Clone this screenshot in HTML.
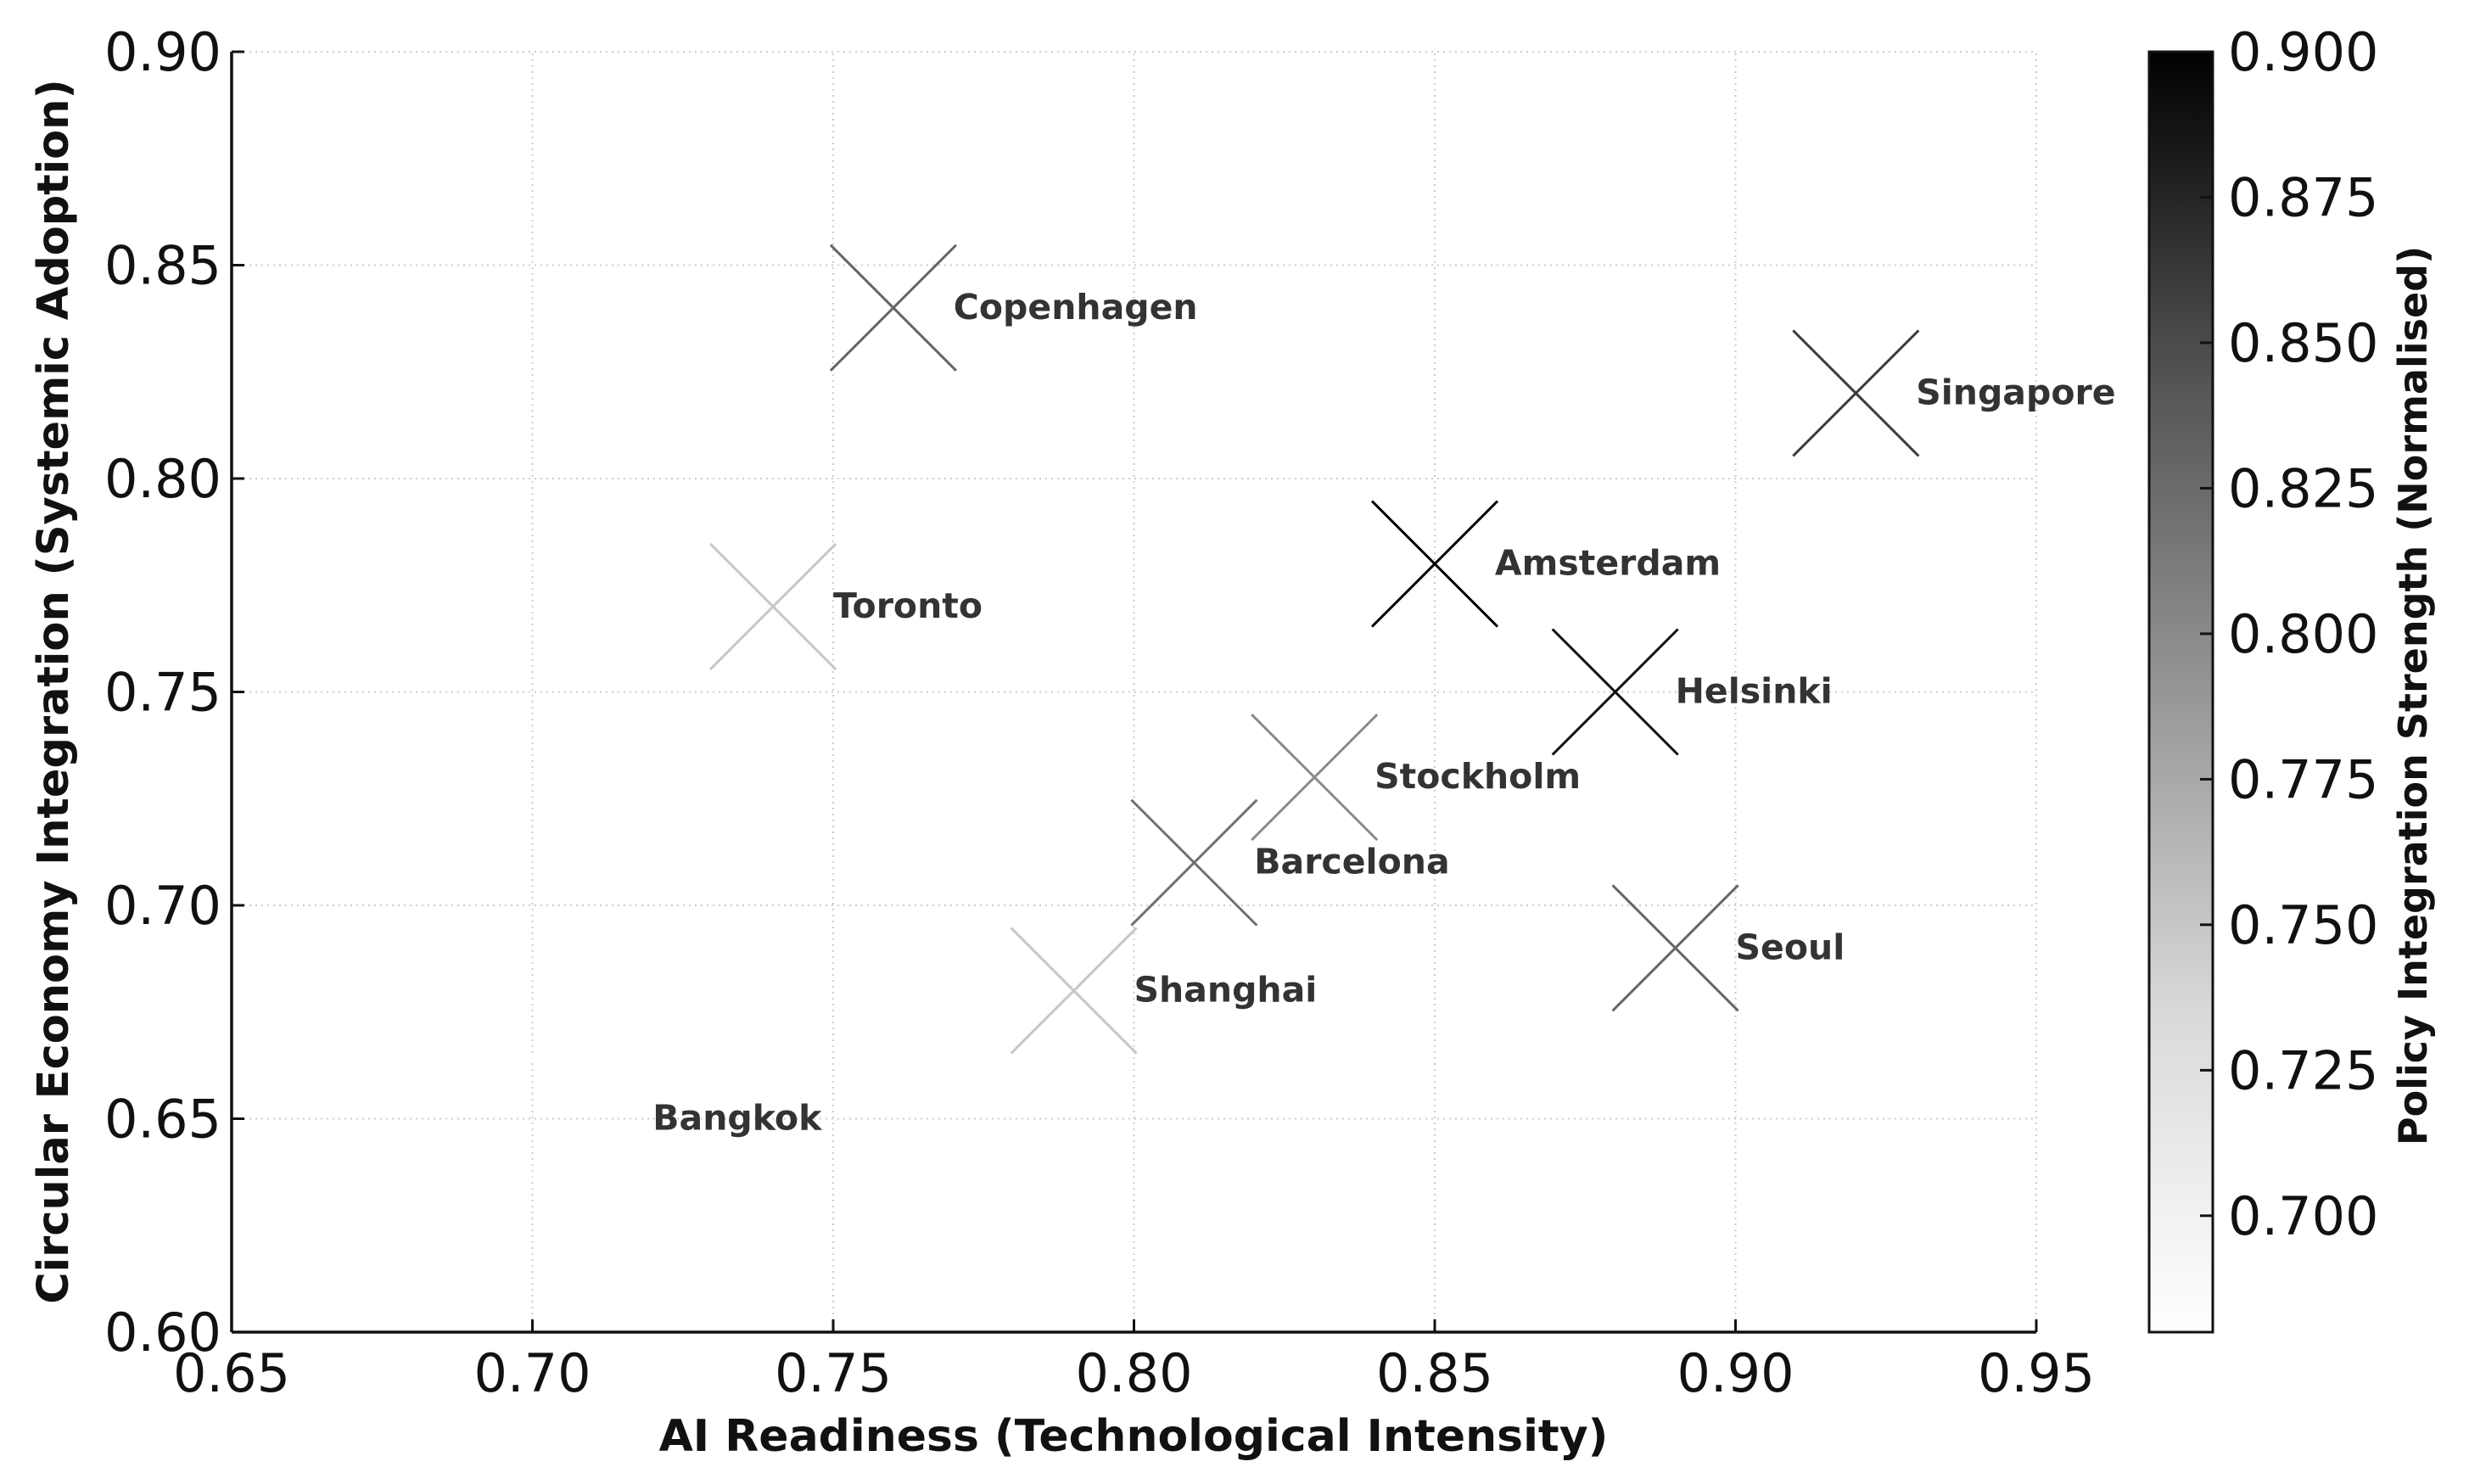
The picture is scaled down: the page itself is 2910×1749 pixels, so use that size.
<!DOCTYPE html>
<html><head><meta charset="utf-8"><style>
html,body{margin:0;padding:0;background:#fff;}
svg{display:block;font-family:"DejaVu Sans","Liberation Sans",sans-serif;}
</style></head><body>
<svg id="chart" width="2910" height="1749" viewBox="0 0 2910 1749" xmlns="http://www.w3.org/2000/svg">
<defs>
<linearGradient id="greys" x1="0" y1="1" x2="0" y2="0">
<stop offset="0" stop-color="#ffffff"/>
<stop offset="0.25" stop-color="#d9d9d9"/>
<stop offset="0.5" stop-color="#969696"/>
<stop offset="0.75" stop-color="#525252"/>
<stop offset="1" stop-color="#000000"/>
</linearGradient>
</defs>
<g id="grid"></g>
<g id="marks"></g>
<g id="axes"></g>
<g id="cbar"></g>
<text x="1336" y="1710" font-size="52" font-weight="bold" text-anchor="middle" fill="#111">AI Readiness (Technological Intensity)</text>
<text transform="translate(80,815) rotate(-90)" font-size="51" font-weight="bold" text-anchor="middle" fill="#111">Circular Economy Integration (Systemic Adoption)</text>
<text transform="translate(2860,820) rotate(-90)" font-size="46" font-weight="bold" text-anchor="middle" fill="#111">Policy Integration Strength (Normalised)</text>
</svg>
<script>
const cities = ["Copenhagen","Singapore","Amsterdam","Toronto","Helsinki","Stockholm","Barcelona","Shanghai","Seoul","Bangkok"];
const aiReadiness = [0.76,0.92,0.85,0.74,0.88,0.83,0.81,0.79,0.89,0.71];
const circularEconomy = [0.84,0.82,0.78,0.77,0.75,0.73,0.71,0.68,0.69,0.65];
const policyStrength = [0.83,0.86,0.90,0.75,0.89,0.80,0.82,0.75,0.83,0.68];
const xTicks = [0.65,0.70,0.75,0.80,0.85,0.90,0.95];
const yTicks = [0.60,0.65,0.70,0.75,0.80,0.85,0.90];
const cTicks = [0.700,0.725,0.750,0.775,0.800,0.825,0.850,0.875,0.900];

const NS="http://www.w3.org/2000/svg";
const X0=273,X1=2400,Y0=1570,Y1=61;
const xmin=0.65,xmax=0.95,ymin=0.60,ymax=0.90,cmin=0.68,cmax=0.90;
const CB0=2533,CB1=2608;
function sx(v){return X0+(v-xmin)/(xmax-xmin)*(X1-X0);}
function sy(v){return Y0-(v-ymin)/(ymax-ymin)*(Y0-Y1);}
function sc(v){return Y0-(v-cmin)/(cmax-cmin)*(Y0-Y1);}
function grey(v){
  const t=Math.max(0,Math.min(1,(v-cmin)/(cmax-cmin)));
  const stops=[[0,255],[0.25,217],[0.5,150],[0.75,82],[1,0]];
  let g=0;
  for(let i=0;i<stops.length-1;i++){
    if(t>=stops[i][0]&&t<=stops[i+1][0]){const f=(t-stops[i][0])/(stops[i+1][0]-stops[i][0]);g=stops[i][1]+f*(stops[i+1][1]-stops[i][1]);break;}
  }
  g=Math.round(g);return `rgb(${g},${g},${g})`;
}
function mk(tag,attrs,parent){const e=document.createElementNS(NS,tag);for(const k in attrs)e.setAttribute(k,attrs[k]);parent.appendChild(e);return e;}
const grid=document.getElementById('grid'),axes=document.getElementById('axes'),marks=document.getElementById('marks'),cbar=document.getElementById('cbar');

xTicks.forEach(v=>{
  const x=sx(v);
  const gl=mk('line',{x1:x,y1:Y0,x2:x,y2:Y1,stroke:'#cccccc','stroke-width':2,'stroke-dasharray':'2,5'},grid);
  
  
  const t=mk('line',{x1:x,y1:Y0,x2:x,y2:Y0-15,stroke:'#111','stroke-width':3},axes);
  
  
  const lb=mk('text',{x:x,y:Y0+70,'font-size':62,'text-anchor':'middle',fill:'#111'},axes);
  lb.textContent=v.toFixed(2);
  
  
});
yTicks.forEach(v=>{
  const y=sy(v);
  const gl=mk('line',{x1:X0,y1:y,x2:X1,y2:y,stroke:'#cccccc','stroke-width':2,'stroke-dasharray':'2,5'},grid);
  
  
  const t=mk('line',{x1:X0,y1:y,x2:X0+15,y2:y,stroke:'#111','stroke-width':3},axes);
  
  
  const lb=mk('text',{x:X0-12,y:y+22,'font-size':62,'text-anchor':'end',fill:'#111'},axes);
  lb.textContent=v.toFixed(2);
  
  
});
const sp1=mk('line',{x1:X0,y1:Y0,x2:X1,y2:Y0,stroke:'#111','stroke-width':3.5},axes);


const sp2=mk('line',{x1:X0,y1:Y0,x2:X0,y2:Y1,stroke:'#111','stroke-width':3.5},axes);



const R=74;
cities.forEach((c,i)=>{
  const x=sx(aiReadiness[i]),y=sy(circularEconomy[i]),col=grey(policyStrength[i]);
  const g=mk('g',{},marks);
  
  
  mk('path',{d:`M${x-R},${y-R}L${x+R},${y+R}M${x-R},${y+R}L${x+R},${y-R}`,stroke:col,'stroke-width':3,fill:'none'},g);
  const lb=mk('text',{x:sx(aiReadiness[i]+0.01),y:y+13,'font-size':41,'font-weight':'bold',fill:'#333'},g);
  lb.textContent=c;
  
  
});

const bar=mk('rect',{x:CB0,y:Y1,width:CB1-CB0,height:Y0-Y1,fill:'url(#greys)',stroke:'#111','stroke-width':3},cbar);


cTicks.forEach(v=>{
  const y=sc(v);
  const t=mk('line',{x1:CB1,y1:y,x2:CB1-15,y2:y,stroke:'#111','stroke-width':3},cbar);
  
  
  const lb=mk('text',{x:CB1+18,y:y+22,'font-size':62,fill:'#111'},cbar);
  lb.textContent=v.toFixed(3);
  
  
});
</script>
</body></html>
